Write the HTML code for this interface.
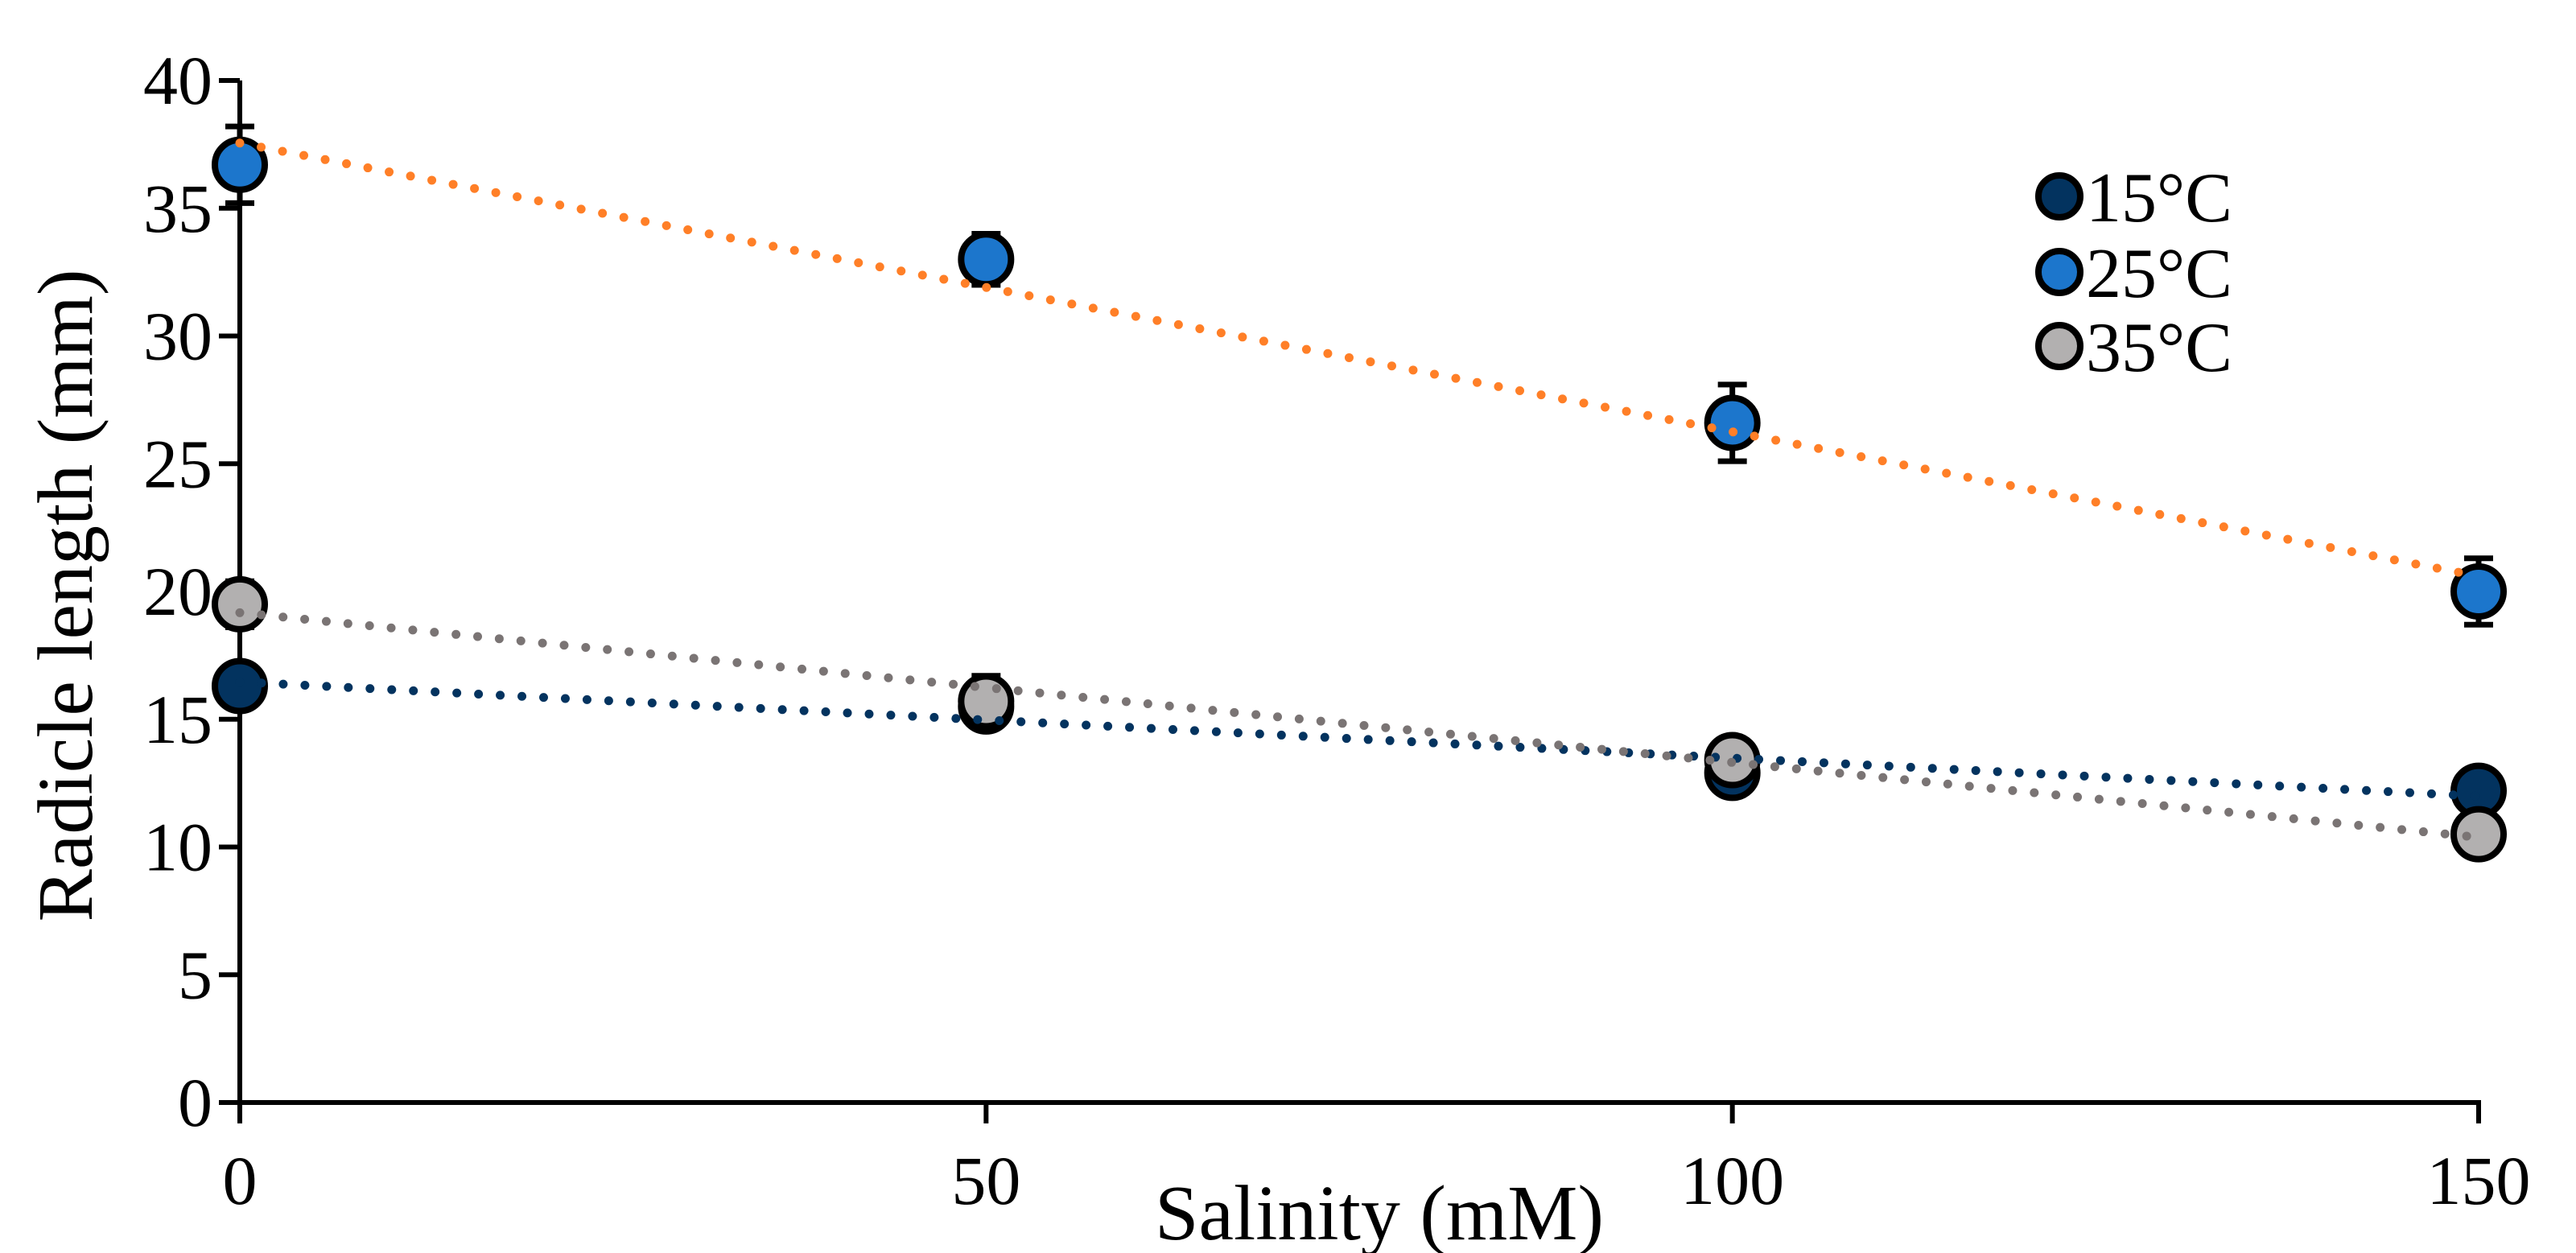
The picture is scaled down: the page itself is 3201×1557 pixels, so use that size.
<!DOCTYPE html>
<html><head><meta charset="utf-8"><style>
html,body{margin:0;padding:0;background:#fff;}
svg{display:block;font-family:"Liberation Serif",serif;}
</style></head><body>
<svg id="chart" width="3201" height="1557" viewBox="0 0 3201 1557">
<g id="axes"></g>
<g id="trends"></g>
<g id="marks"></g>
<g id="legend"></g>
<text transform="translate(114,740) rotate(-90)" text-anchor="middle" font-size="98">Radicle length (mm)</text>
<text x="1714" y="1540" text-anchor="middle" font-size="98">Salinity (mM)</text>
</svg>
<script>
const categories = [0, 50, 100, 150];
const seriesNames = ["15°C", "25°C", "35°C"];
const values15 = [16.3, 15.5, 12.9, 12.2];
const errors15 = [0.5, 0.6, 0.5, 0.4];
const values25 = [36.7, 33.0, 26.6, 20.0];
const errors25 = [1.5, 1.0, 1.5, 1.3];
const values35 = [19.5, 15.7, 13.4, 10.5];
const errors35 = [0.9, 1.0, 0.8, 0.5];
const yTicks = [0, 5, 10, 15, 20, 25, 30, 35, 40];
const xTicks = [0, 50, 100, 150];

const NS = "http://www.w3.org/2000/svg";
const X0 = 298, X1 = 3080, Y0 = 1370, Y1 = 100;
const xs = v => X0 + (v - 0) / 150 * (X1 - X0);
const ys = v => Y0 - v / 40 * (Y0 - Y1);
function mk(tag, attrs, parent) {
  const e = document.createElementNS(NS, tag);
  for (const k in attrs) e.setAttribute(k, attrs[k]);
  parent.appendChild(e);
  return e;
}
const axes = document.getElementById('axes');
let el = mk('line', {x1: X0, y1: Y1, x2: X0, y2: Y0, stroke: '#000', 'stroke-width': 6}, axes);


el = mk('line', {x1: X0 - 3, y1: Y0, x2: X1 + 3, y2: Y0, stroke: '#000', 'stroke-width': 6}, axes);


yTicks.forEach(t => {
  const tk = mk('line', {x1: X0 - 26, y1: ys(t), x2: X0, y2: ys(t), stroke: '#000', 'stroke-width': 6}, axes);
  
  
  const tx = mk('text', {x: 264, y: ys(t) + 29, 'text-anchor': 'end', 'font-size': 86}, axes);
  tx.textContent = t;
  
  
});
xTicks.forEach(t => {
  const tk = mk('line', {x1: xs(t), y1: Y0, x2: xs(t), y2: Y0 + 26, stroke: '#000', 'stroke-width': 6}, axes);
  
  
  const tx = mk('text', {x: xs(t), y: 1496, 'text-anchor': 'middle', 'font-size': 86}, axes);
  tx.textContent = t;
  
  
});
function fit(vals) {
  const n = categories.length;
  const mx = categories.reduce((a, b) => a + b, 0) / n;
  const my = vals.reduce((a, b) => a + b, 0) / n;
  let sxy = 0, sxx = 0;
  for (let i = 0; i < n; i++) { sxy += (categories[i] - mx) * (vals[i] - my); sxx += (categories[i] - mx) ** 2; }
  const m = sxy / sxx;
  return [my - m * mx, m];
}
const series = [
  {vals: values15, errs: errors15, fill: '#03335f', trend: '#03335f', name: 'series-15c'},
  {vals: values35, errs: errors35, fill: '#b2b0b0', trend: '#7a7474', name: 'series-35c'},
  {vals: values25, errs: errors25, fill: '#1c76cc', trend: '#ff7f27', name: 'series-25c'}
];
const trends = document.getElementById('trends');
const marks = document.getElementById('marks');
series.forEach(s => {
  const g = mk('g', {}, marks);
  
  
  categories.forEach((c, i) => {
    const x = xs(c), yt = ys(s.vals[i] + s.errs[i]), yb = ys(s.vals[i] - s.errs[i]);
    const eb = mk('path', {d: `M${x-18},${yt}H${x+18}M${x},${yt}V${yb}M${x-18},${yb}H${x+18}`, stroke: '#000', 'stroke-width': 7, fill: 'none'}, g);
    
    
  });
  categories.forEach((c, i) => {
    const p = mk('circle', {cx: xs(c), cy: ys(s.vals[i]), r: 31, fill: s.fill, stroke: '#000', 'stroke-width': 8}, g);
    
    
  });
});
series.forEach(s => {
  const [b, m] = fit(s.vals);
  const x0 = categories[0], x1 = categories[categories.length - 1];
  const ln = mk('line', {x1: xs(x0), y1: ys(b + m * x0), x2: xs(x1), y2: ys(b + m * x1), stroke: s.trend, 'stroke-width': 11, 'stroke-linecap': 'round', 'stroke-dasharray': '0 27'}, trends);
  
  
});
document.getElementById('chart').appendChild(trends);
const legend = document.getElementById('legend');
const legFills = ['#03335f', '#1c76cc', '#b2b0b0'];
const legY = [244, 338, 430];
seriesNames.forEach((n, i) => {
  const g = mk('g', {}, legend);
  
  
  mk('circle', {cx: 2559, cy: legY[i], r: 26, fill: legFills[i], stroke: '#000', 'stroke-width': 8}, g);
  const t = mk('text', {x: 2592, y: legY[i] + 31, 'font-size': 88}, g);
  t.textContent = n;
});
</script>
</body></html>
